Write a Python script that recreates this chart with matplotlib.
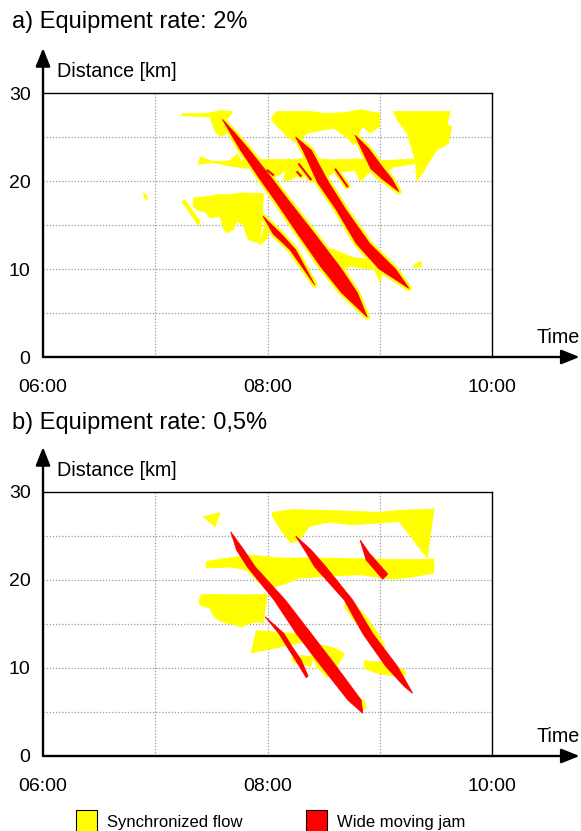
import matplotlib.pyplot as plt
from matplotlib.patches import Polygon, Rectangle

plt.rcParams['font.family'] = ['Liberation Sans', 'DejaVu Sans']

YEL = '#FFFF00'
RED = '#FF0000'
GRID = '#9a9a9a'

x_ticks = [6, 8, 10]
x_labels = ['06:00', '08:00', '10:00']
y_ticks = [0, 10, 20, 30]
x_grid = [7, 8, 9]
y_grid = [5, 10, 15, 20, 25]

# ---- panel a (2 %), vertices as (hour, km) ----
a_sync_top_left = [(7.237, 27.65), (7.37, 27.65), (7.488, 27.73), (7.577, 27.99), (7.689, 27.88),
                   (7.651, 27.16), (7.612, 26.89), (7.636, 25.83), (7.621, 25.27), (7.577, 25.08),
                   (7.533, 25.64), (7.488, 27.27), (7.37, 27.35), (7.237, 27.42)]
a_sync_top_mid = [(8.036, 27.16), (8.08, 27.9), (8.385, 27.9), (8.503, 27.65), (8.71, 27.8),
                  (8.828, 28.1), (9.0, 27.7), (9.0, 26.2), (8.917, 25.45), (8.843, 26.2),
                  (8.769, 24.1), (8.71, 24.9), (8.592, 26.0), (8.503, 25.8), (8.355, 25.45),
                  (8.266, 24.3), (8.169, 25.08), (8.036, 26.97)]
a_sync_top_right = [(9.124, 27.9), (9.627, 27.9), (9.598, 26.4), (9.642, 26.2), (9.612, 24.3),
                    (9.568, 23.9), (9.509, 23.56), (9.45, 22.4), (9.391, 21.1), (9.331, 20.0),
                    (9.317, 22.4), (9.243, 25.45), (9.154, 26.97)]
a_sync_band = [(7.385, 21.9), (7.40, 22.73), (7.518, 22.2), (7.666, 22.3), (7.73, 23.1),
               (7.76, 22.4), (7.97, 22.45), (8.228, 22.45), (8.385, 22.6), (8.56, 22.4),
               (8.80, 22.5), (8.95, 22.35), (9.10, 22.35), (9.30, 22.5), (9.32, 22.0),
               (9.12, 21.6), (8.976, 20.15), (8.917, 21.1), (8.828, 20.0), (8.78, 21.2),
               (8.60, 21.0), (8.50, 20.3), (8.385, 20.0), (8.30, 21.0), (8.22, 20.2),
               (8.139, 20.0), (8.169, 21.3), (8.08, 20.5), (7.93, 21.9), (7.81, 21.45),
               (7.666, 21.7), (7.518, 22.1)]
a_sync_block = [(7.34, 18.07), (7.488, 18.26), (7.547, 18.45), (7.666, 18.45), (7.754, 18.64),
                (7.962, 18.56), (7.962, 17.88), (7.947, 15.04), (7.932, 12.95), (7.828, 13.33),
                (7.784, 15.04), (7.725, 15.42), (7.695, 14.47), (7.666, 14.28), (7.636, 14.09),
                (7.607, 14.66), (7.577, 15.98), (7.488, 15.80), (7.459, 16.36), (7.37, 16.74),
                (7.34, 17.12)]
a_sync_strip = [(7.237, 17.69), (7.266, 17.8), (7.40, 15.42), (7.385, 14.92)]
a_sync_dot = [(6.895, 18.6), (6.925, 18.4), (6.93, 17.9), (6.905, 18.0)]
a_sync_wedge = [(7.93, 12.7), (7.99, 15.8), (8.0, 13.5)]
a_sync_blob = [(8.385, 12.58), (8.592, 12.2), (8.74, 11.4), (8.888, 11.06), (8.947, 9.92),
               (8.74, 10.3), (8.592, 9.5), (8.45, 10.5)]
a_sync_bit1 = [(8.95, 10.1), (9.02, 9.5), (9.0, 8.5)]
a_sync_bit2 = [(9.30, 10.4), (9.37, 10.9), (9.37, 10.3), (9.31, 10.15)]

a_jam1 = [(7.599, 27.0), (7.74, 25.0), (7.84, 23.5), (8.027, 20.5), (8.187, 17.8), (8.414, 14.1),
          (8.648, 10.2), (8.80, 7.3), (8.888, 4.55), (8.66, 7.3), (8.478, 10.2), (8.264, 14.1),
          (8.067, 17.8), (7.917, 20.5), (7.76, 23.5), (7.69, 25.0)]
a_jam2 = [(8.25, 25.0), (8.39, 23.5), (8.545, 19.85), (8.70, 16.7), (8.91, 12.9), (9.14, 10.0),
          (9.26, 7.8), (8.995, 10.0), (8.79, 12.9), (8.615, 16.7), (8.445, 19.85), (8.315, 23.5)]
a_jam3 = [(8.78, 25.2), (8.90, 23.7), (9.035, 21.4), (9.11, 20.2), (9.17, 18.8), (9.025, 20.2),
          (8.92, 21.4), (8.835, 23.7)]
a_jam4 = [(7.96, 16.0), (8.12, 14.0), (8.25, 12.2), (8.42, 8.2), (8.20, 12.2), (8.05, 14.0)]
a_jam_thin = [[(8.0, 21.2), (8.05, 20.7)], [(8.281, 21.9), (8.385, 20.2)],
              [(8.266, 21.0), (8.296, 20.6)], [(8.607, 21.3), (8.71, 19.4)]]

# ---- panel b (0,5 %) ----
b_sync_tri = [(7.429, 27.2), (7.577, 27.65), (7.533, 26.06)]
b_sync_top = [(8.043, 27.68), (8.226, 27.99), (8.522, 27.91), (8.758, 27.80), (8.995, 27.68),
              (9.172, 27.91), (9.483, 28.07), (9.423, 22.5), (9.172, 26.66), (8.995, 26.48),
              (8.758, 26.28), (8.551, 26.59), (8.373, 26.09), (8.285, 24.58), (8.211, 24.2),
              (8.137, 25.34), (8.063, 26.85), (8.043, 27.23)]
b_sync_band = [(7.457, 22.11), (7.752, 22.68), (7.812, 22.87), (8.107, 22.5), (8.462, 22.5),
               (8.877, 22.39), (9.29, 22.31), (9.483, 22.39), (9.483, 20.8), (9.29, 20.34),
               (9.113, 20.11), (8.817, 20.6), (8.522, 20.41), (8.285, 20.23), (8.137, 19.47),
               (8.048, 19.2), (7.93, 19.66), (7.812, 21.17), (7.664, 21.48), (7.457, 21.36)]
b_sync_block = [(7.414, 18.37), (7.814, 18.30), (7.997, 18.37), (7.962, 15.08), (7.902, 15.27),
                (7.799, 14.89), (7.769, 14.62), (7.725, 14.89), (7.636, 15.08), (7.562, 15.45),
                (7.518, 16.02), (7.488, 16.78), (7.399, 17.16), (7.391, 17.73)]
b_sync_wedge = [(7.90, 14.24), (8.314, 13.86), (8.344, 13.02), (7.856, 11.7)]
b_sync_small = [(8.211, 11.14), (8.3, 11.43), (8.403, 11.25), (8.389, 10.18), (8.24, 10.57)]
b_sync_mid = [(8.373, 11.89), (8.462, 12.65), (8.61, 12.2), (8.684, 11.63), (8.64, 10.6),
              (8.536, 8.86), (8.45, 10.0)]
b_sync_bit = [(8.80, 6.77), (8.864, 6.17), (8.879, 5.42), (8.82, 5.23)]
b_sync_side = [(8.701, 17.73), (8.76, 17.54), (8.879, 15.83), (8.982, 13.94), (9.05, 12.42),
               (9.012, 12.23), (8.908, 13.56), (8.79, 15.08), (8.686, 16.97)]
b_sync_low = [(8.864, 10.83), (9.056, 10.61), (9.219, 9.77), (9.234, 9.2), (9.175, 9.02),
              (8.982, 9.39), (8.864, 9.96)]

b_jam1 = [(7.672, 25.49), (7.79, 23.4), (7.89, 21.5), (8.16, 17.7), (8.39, 13.9), (8.612, 10.2),
          (8.834, 6.36), (8.849, 4.85), (8.716, 6.36), (8.479, 10.2), (8.257, 13.9), (8.06, 17.7),
          (7.82, 21.5), (7.725, 23.4)]
b_jam2 = [(8.251, 25.0), (8.39, 23.4), (8.52, 21.5), (8.76, 17.7), (8.938, 13.9), (9.16, 10.15),
          (9.293, 7.12), (9.219, 7.9), (9.056, 10.15), (8.849, 13.9), (8.686, 17.7), (8.42, 21.5),
          (8.331, 23.4)]
b_jam3 = [(8.825, 24.55), (8.91, 23.0), (9.071, 20.68), (9.027, 20.08), (8.879, 22.27)]
b_jam4 = [(7.979, 15.83), (8.145, 13.94), (8.22, 12.4), (8.30, 10.9), (8.361, 9.1), (8.345, 8.9),
          (8.25, 10.9), (8.175, 12.4), (8.10, 13.94)]

a_sync = [a_sync_top_left, a_sync_top_mid, a_sync_top_right, a_sync_band, a_sync_block,
          a_sync_strip, a_sync_dot, a_sync_wedge, a_sync_blob, a_sync_bit1, a_sync_bit2]
a_jams = [a_jam1, a_jam2, a_jam3, a_jam4]
b_sync = [b_sync_tri, b_sync_top, b_sync_band, b_sync_block, b_sync_wedge, b_sync_small,
          b_sync_mid, b_sync_bit, b_sync_side, b_sync_low]
b_jams = [b_jam1, b_jam2, b_jam3, b_jam4]


def draw_panel(ax, sync, jams, thin, halo):
    ax.set_xlim(6, 10)
    ax.set_ylim(0, 30)
    for g in x_grid:
        ax.axvline(g, color=GRID, lw=0.9, ls=(0, (1, 1.5)), zorder=0)
    for g in y_grid:
        ax.axhline(g, color=GRID, lw=0.9, ls=(0, (1, 1.5)), zorder=0)

    for p in sync:
        ax.add_patch(Polygon(p, closed=True, fc=YEL, ec=YEL, lw=0.6, zorder=2))
    if halo:
        # yellow fringe around every jam
        for p in jams:
            ax.add_patch(Polygon(p, closed=True, fc=YEL, ec=YEL, lw=4, joinstyle='round', zorder=3))
        for s in thin:
            t, d = zip(*s)
            ax.plot(t, d, color=YEL, lw=4.5, solid_capstyle='round', zorder=3)
    for p in jams:
        ax.add_patch(Polygon(p, closed=True, fc=RED, ec=RED, lw=0.6, zorder=4))
    for s in thin:
        t, d = zip(*s)
        ax.plot(t, d, color=RED, lw=1.5, zorder=4)

    ax.set_xticks(x_ticks, x_labels)
    ax.set_yticks(y_ticks)
    ax.tick_params(length=0, labelsize=14)
    ax.tick_params(axis='x', pad=16)
    ax.tick_params(axis='y', pad=9)
    for side in ['left', 'bottom']:
        ax.spines[side].set_visible(False)
    for side in ['top', 'right']:
        ax.spines[side].set_linewidth(1.0)

    arrow = dict(arrowstyle='-|>,head_length=0.55,head_width=0.22', lw=1.7, color='black',
                 shrinkA=0, shrinkB=0, mutation_scale=20)
    ax.annotate('', xy=(0, 1.17), xytext=(0, 0), xycoords='axes fraction',
                arrowprops=arrow, annotation_clip=False)
    ax.annotate('', xy=(1.195, 0), xytext=(0, 0), xycoords='axes fraction',
                arrowprops=arrow, annotation_clip=False)
    ax.text(0.031, 1.08, 'Distance [km]', transform=ax.transAxes, fontsize=14.2,
            ha='left', va='center')
    ax.text(1.098, 0.072, 'Time', transform=ax.transAxes, fontsize=14.2,
            ha='left', va='center')


W, H = 581, 831
fig = plt.figure(figsize=(W / 100, H / 100), dpi=100)
ax_a = fig.add_axes([43 / W, 1 - 357 / H, 449 / W, 264 / H])
ax_b = fig.add_axes([43 / W, 1 - 756 / H, 449 / W, 264 / H])

draw_panel(ax_a, a_sync, a_jams, a_jam_thin, True)
draw_panel(ax_b, b_sync, b_jams, [], False)

fig.text(12 / W, 1 - 22 / H, 'a) Equipment rate: 2%', fontsize=17, ha='left', va='center')
fig.text(12 / W, 1 - 423 / H, 'b) Equipment rate: 0,5%', fontsize=17, ha='left', va='center')

# legend
for x0, col, lab in [(76, YEL, 'Synchronized flow'), (306, RED, 'Wide moving jam')]:
    fig.patches.append(Rectangle((x0 / W, 1 - 833 / H), 21 / W, 23 / H, transform=fig.transFigure,
                                 fc=col, ec='black', lw=0.8))
    fig.text((x0 + 31) / W, 1 - 822 / H, lab, fontsize=12, ha='left', va='center')

fig.savefig('out.png', dpi=100)
